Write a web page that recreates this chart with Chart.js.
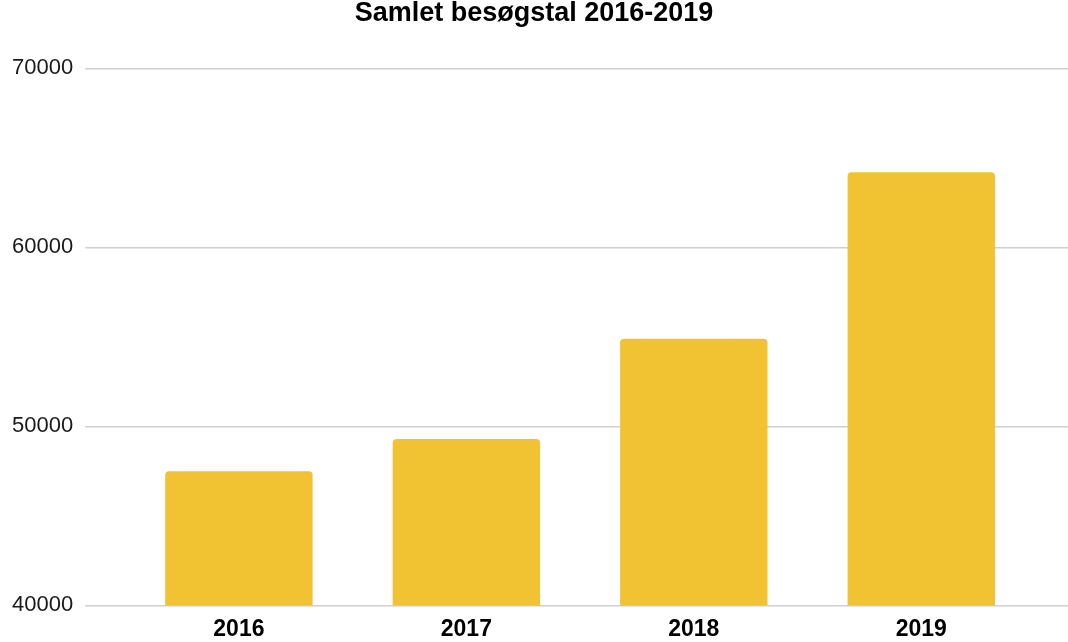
<!DOCTYPE html>
<html>
<head>
<meta charset="utf-8">
<script src="https://cdn.jsdelivr.net/npm/chart.js@4"></script>
<style>
  html, body { margin: 0; padding: 0; background: #fff; }
  #wrap { width: 1068px; height: 642px; }
</style>
</head>
<body>
<div id="wrap"><canvas id="besoeg" width="1068" height="642"></canvas></div>
<script>
// data
const years = ['2016', '2017', '2018', '2019'];
const visitors = [47500, 49300, 54900, 64200];
const yTicks = [40000, 50000, 60000, 70000];

const gridColor = '#cfcfcf';
const barColor = '#f1c232';
const fontFamily = "'Liberation Sans', Arial, Helvetica, sans-serif";

const ctx = document.getElementById('besoeg').getContext('2d');

new Chart(ctx, {
  type: 'bar',
  data: {
    labels: years,
    datasets: [{
      label: 'Samlet besøgstal',
      data: visitors,
      backgroundColor: barColor,
      borderRadius: 4,
      barPercentage: 0.648,
      categoryPercentage: 1
    }]
  },
  options: {
    responsive: false,
    animation: false,
    layout: {
      padding: { left: 0, right: 0, top: -3, bottom: -11 }
    },
    plugins: {
      legend: { display: false },
      tooltip: { enabled: false },
      title: {
        display: true,
        text: 'Samlet besøgstal 2016-2019',
        color: '#000',
        font: { family: fontFamily, size: 27, weight: 'bold' },
        padding: { top: 0, bottom: 39 }
      }
    },
    scales: {
      x: {
        grid: { display: false, drawTicks: false },
        border: { display: false },
        ticks: {
          color: '#000',
          padding: 10,
          font: { family: fontFamily, size: 23, weight: 'bold' }
        }
      },
      y: {
        min: yTicks[0],
        max: yTicks[yTicks.length - 1],
        afterBuildTicks: axis => { axis.ticks = yTicks.map(v => ({ value: v })); },
        border: { display: false },
        grid: {
          color: gridColor,
          tickColor: gridColor,
          lineWidth: 1.5,
          drawTicks: true,
          tickLength: 40
        },
        ticks: {
          color: '#1a1a1a',
          padding: 12,
          font: { family: fontFamily, size: 22 },
          callback: v => String(v)
        }
      },
      // right side only carries the grid line stubs out to the edge
      yRight: {
        position: 'right',
        min: yTicks[0],
        max: yTicks[yTicks.length - 1],
        afterBuildTicks: axis => { axis.ticks = yTicks.map(v => ({ value: v })); },
        border: { display: false },
        grid: {
          drawOnChartArea: false,
          tickColor: gridColor,
          lineWidth: 1.5,
          drawTicks: true,
          tickLength: 33
        },
        ticks: { display: false }
      }
    }
  }
});
</script>
</body>
</html>
